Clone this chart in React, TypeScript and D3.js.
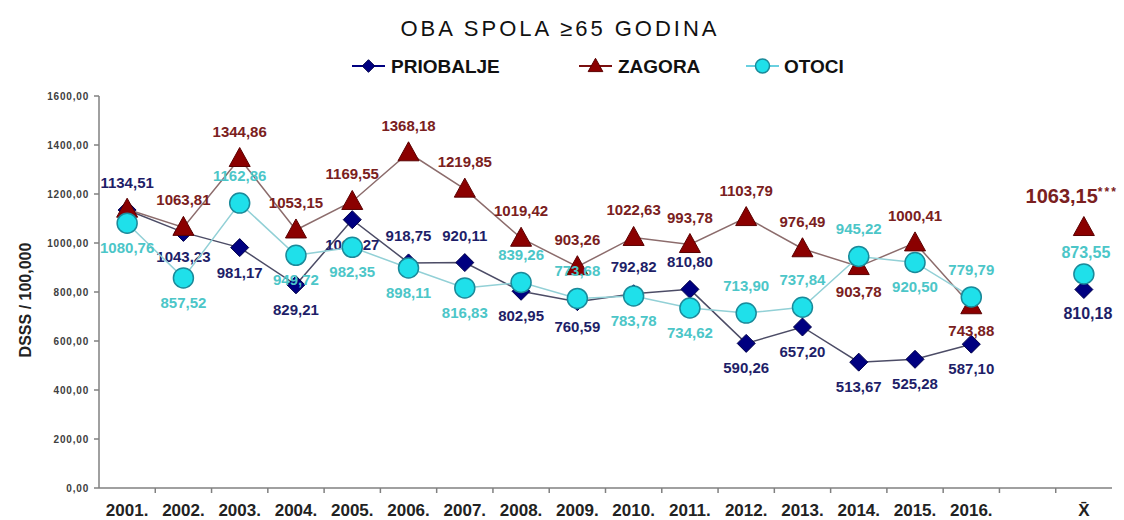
import React from 'react';
import * as d3 from 'd3';

const categories = ['2001.', '2002.', '2003.', '2004.', '2005.', '2006.', '2007.', '2008.', '2009.', '2010.', '2011.', '2012.', '2013.', '2014.', '2015.', '2016.', '', 'X\u0304'];
const years = categories.slice(0, 16);
const priobalje = [1134.51, 1043.23, 981.17, 829.21, 1095.27, 918.75, 920.11, 802.95, 760.59, 792.82, 810.8, 590.26, 657.2, 513.67, 525.28, 587.1];
const zagora = [1138.0, 1063.81, 1344.86, 1053.15, 1169.55, 1368.18, 1219.85, 1019.42, 903.26, 1022.63, 993.78, 1103.79, 976.49, 903.78, 1000.41, 743.88];
const otoci = [1080.76, 857.52, 1162.86, 949.72, 982.35, 898.11, 816.83, 839.26, 773.68, 783.78, 734.62, 713.9, 737.84, 945.22, 920.5, 779.79];
const meanCategory = 'X\u0304';
const meanPriobalje = 810.18;
const meanZagora = 1063.15;
const meanOtoci = 873.55;
const yTicks = [0, 200, 400, 600, 800, 1000, 1200, 1400, 1600];
// label placement: a = above, b = below, '' = hidden
const priobaljePos = ['a', 'b', 'b', 'b', 'b', 'a', 'a', 'b', 'b', 'a', 'a', 'b', 'b', 'b', 'b', 'b'];
const zagoraPos = ['', 'a', 'a', 'a', 'a', 'a', 'a', 'a', 'a', 'a', 'a', 'a', 'a', 'b', 'a', 'b'];
const otociPos = ['b', 'b', 'a', 'b', 'b', 'b', 'b', 'a', 'a', 'b', 'b', 'a', 'a', 'a', 'b', 'a'];

const W = 1124;
const H = 520;
const FONT = "'Liberation Sans', Arial, sans-serif";

const fmt = (v: number) => v.toFixed(2).replace('.', ',');

const x = d3.scaleBand<string>().domain(categories).range([99, 1112]).padding(0);
const y = d3.scaleLinear().domain([0, 1600]).range([488, 96]);
const cx = (c: string) => (x(c) as number) + x.bandwidth() / 2;

type MarkerKind = 'diamond' | 'triangle' | 'circle';

function Marker({ kind, px, py, s = 1 }: { kind: MarkerKind; px: number; py: number; s?: number }) {
  if (kind === 'diamond') {
    const r = 9 * s;
    return <path d={`M${px},${py - r}L${px + r},${py}L${px},${py + r}L${px - r},${py}Z`} fill="#000080" stroke="#00004a" strokeWidth={1} />;
  }
  if (kind === 'triangle') {
    const w = 10.5 * s;
    return <path d={`M${px},${py - 11 * s}L${px + w},${py + 8 * s}L${px - w},${py + 8 * s}Z`} fill="#8b0000" stroke="#5a0000" strokeWidth={1} />;
  }
  return <circle cx={px} cy={py} r={10 * s} fill="#1fe0ea" stroke="#1a8a9a" strokeWidth={1.5} />;
}

const series = [
  { name: 'PRIOBALJE', values: priobalje, pos: priobaljePos, kind: 'diamond' as MarkerKind, line: '#4c4c66', label: '#1e1e68' },
  { name: 'ZAGORA', values: zagora, pos: zagoraPos, kind: 'triangle' as MarkerKind, line: '#8c6c6c', label: '#7a2020' },
  { name: 'OTOCI', values: otoci, pos: otociPos, kind: 'circle' as MarkerKind, line: '#92d0d6', label: '#4cc6c8' },
];

export default function App() {
  const lineGen = d3
    .line<number>()
    .x((_, i) => cx(years[i]))
    .y((d) => y(d));

  const legendItems = [
    { s: series[0], x0: 352, tx: 391, lc: '#000080' },
    { s: series[1], x0: 579, tx: 618, lc: '#7a1010' },
    { s: series[2], x0: 746, tx: 784, lc: '#6ad0e0' },
  ];

  return (
    <svg width={W} height={H} style={{ position: 'absolute', left: 0, top: 0, background: '#fff' }} fontFamily={FONT}>
      <rect x={0} y={0} width={W} height={H} fill="#fff" />
      {/* title */}
      <text x={560} y={36} textAnchor="middle" fontSize={22} letterSpacing={3} fill="#111">
        OBA SPOLA ≥65 GODINA
      </text>
      {/* legend */}
      {legendItems.map((it) => (
        <g key={it.s.name}>
          <line x1={it.x0} x2={it.x0 + 33} y1={66} y2={66} stroke={it.lc} strokeWidth={2} />
          <Marker kind={it.s.kind} px={it.x0 + 16.5} py={66} s={0.7} />
          <text x={it.tx} y={73} fontSize={19} fontWeight="bold" fill="#111">
            {it.s.name}
          </text>
        </g>
      ))}
      {/* y axis */}
      <line x1={99} x2={99} y1={y(1600)} y2={y(0)} stroke="#808080" strokeWidth={1.5} />
      {yTicks.map((t) => (
        <g key={t}>
          <line x1={94} x2={99} y1={y(t)} y2={y(t)} stroke="#808080" strokeWidth={1.5} />
          <text x={89} y={y(t) + 3.5} textAnchor="end" fontSize={10} fontWeight="bold" letterSpacing={0.8} fill="#404040">
            {fmt(t)}
          </text>
        </g>
      ))}
      <text transform={`translate(31,${(y(0) + y(1600)) / 2 + 8}) rotate(-90)`} textAnchor="middle" fontSize={16} fontWeight="bold" fill="#222">
        DSSS / 100,000
      </text>
      {/* x axis */}
      <line x1={99} x2={1112} y1={y(0)} y2={y(0)} stroke="#808080" strokeWidth={1.5} />
      {categories.map((c, i) =>
        i > 0 ? <line key={'t' + i} x1={x(c)} x2={x(c)} y1={y(0)} y2={y(0) + 5} stroke="#808080" strokeWidth={1.5} /> : null
      )}
      {categories.map((c, i) => (
        <text key={'l' + i} x={cx(c)} y={516} textAnchor="middle" fontSize={17} fontWeight="bold" fill="#222">
          {c}
        </text>
      ))}
      {/* series */}
      {series.map((s) => (
        <g key={s.name}>
          <path d={lineGen(s.values) as string} fill="none" stroke={s.line} strokeWidth={1.5} />
          {s.values.map((v, i) => (
            <Marker key={i} kind={s.kind} px={cx(years[i])} py={y(v)} />
          ))}
          {s.values.map((v, i) =>
            s.pos[i] ? (
              <text
                key={'lab' + i}
                x={cx(years[i])}
                y={y(v) + (s.pos[i] === 'a' ? -22 : 30)}
                textAnchor="middle"
                fontSize={15}
                fontWeight="bold"
                fill={s.label}
              >
                {fmt(v)}
              </text>
            ) : null
          )}
        </g>
      ))}
      {/* mean column */}
      <Marker kind="diamond" px={cx(meanCategory)} py={y(meanPriobalje)} />
      <Marker kind="triangle" px={cx(meanCategory)} py={y(meanZagora)} />
      <Marker kind="circle" px={cx(meanCategory)} py={y(meanOtoci)} />
      <text x={cx(meanCategory) + 4} y={y(meanPriobalje) + 29} textAnchor="middle" fontSize={16} fontWeight="bold" fill="#1e1e68">
        {fmt(meanPriobalje)}
      </text>
      <text x={cx(meanCategory) + 2} y={y(meanOtoci) - 16} textAnchor="middle" fontSize={16} fontWeight="bold" fill="#4cc6c8">
        {fmt(meanOtoci)}
      </text>
      <text x={cx(meanCategory) + 34} y={y(meanZagora) - 25} textAnchor="end" fontSize={20} fontWeight="bold" fill="#7a2020">
        {fmt(meanZagora)}
        <tspan fontSize={12} dy={-7} letterSpacing={2}>***</tspan>
      </text>
    </svg>
  );
}
